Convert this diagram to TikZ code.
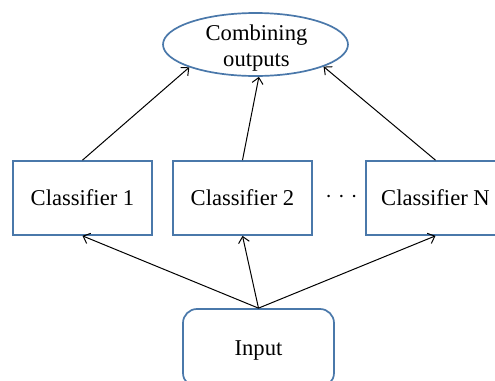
\documentclass[tikz,border=0pt]{standalone}
\usepackage{fontspec}
\setmainfont{Liberation Serif}
\usetikzlibrary{shapes.geometric,arrows.meta}
\definecolor{boxblue}{RGB}{74,120,170}
\begin{document}
\begin{tikzpicture}[x=0.5pt,y=-0.5pt,
  every node/.style={font=\fontsize{11.3}{13}\selectfont},
  clsbox/.style={draw=boxblue,line width=0.85pt,rectangle,minimum width=69.5pt,minimum height=37pt,inner sep=0pt},
  inbox/.style={draw=boxblue,line width=0.85pt,rectangle,rounded corners=7pt,minimum width=75.5pt,minimum height=39pt,inner sep=0pt,text depth=0pt},
  combshape/.style={draw=boxblue,line width=0.85pt,ellipse,minimum width=92.5pt,minimum height=31.5pt,inner sep=0pt},
  conn/.style={-{Straight Barb[length=3pt,width=5.5pt]},line width=0.5pt,black}]
\useasboundingbox (0,0) rectangle (495,381);
\clip (0,0) rectangle (495,381);
\node[combshape] (comb) at (255.5,44.5) {};
\node[align=center] (combtext) at (256.5,48.5) {Combining\\outputs};
\node[clsbox] (c1) at (82.5,198) {Classifier 1};
\node[clsbox] (c2) at (242.5,198) {Classifier 2};
\node[clsbox] (cn) at (435.5,198) {Classifier N};
\node (dots) at (341.5,197) {\hbox{\fontsize{13}{13}\selectfont$\cdot$\kern3pt$\cdot$\kern3pt$\cdot$}};
\node[inbox] (in) at (258.5,348) {Input};
\draw[conn] (in.north) -- (c1.south);
\draw[conn] (in.north) -- (c2.south);
\draw[conn] (in.north) -- (cn.south);
\draw[conn] (c1.north) -- (comb.199);
\draw[conn] (c2.north) -- (comb.276);
\draw[conn] (cn.north) -- (comb.342);
\end{tikzpicture}
\end{document}
